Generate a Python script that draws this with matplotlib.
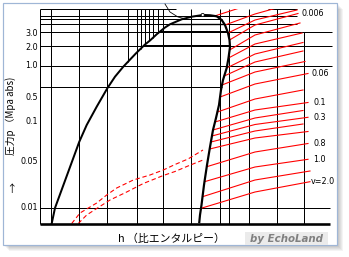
import numpy as np
import matplotlib
matplotlib.use("Agg")
import matplotlib.pyplot as plt
from matplotlib.patches import Rectangle, Circle

# ---------------- data (chart units = pixels) -------------
# saturated liquid line (h, p-position)
liq_x = [51.7, 55, 79.3, 86.7, 96.7, 107.3, 115, 123.3, 136, 145, 150, 157, 165, 170, 181.7, 191.7, 202.7]
liq_y = [223.5, 208, 141.7, 125, 106.7, 88.3, 76.7, 66.7, 53.3, 44.5, 40.5, 34, 27.5, 24.3, 19.3, 16.7, 15]
# saturated vapour line
vap_x = [202.7, 210, 216.7, 221.7, 225, 228, 229.5, 230, 228.5, 226.7, 223, 221, 219, 216, 213, 210, 207, 204, 201.5, 200, 199.3]
vap_y = [15, 15.3, 16.3, 20, 25, 33, 40, 47, 58, 68, 80, 90, 105, 118, 130, 147, 165, 185, 205, 215, 222]
crit_h, crit_p = 202.7, 15

# pressure grid lines
hgrid_y = [9.3, 9.3, 15.7, 19.3, 24, 32.3, 45.7, 66, 87.3, 208.3]
hgrid_x0 = [40, 268, 40, 40, 40, 40, 40, 40, 40, 40]
hgrid_x1 = [176, 297, 297, 222, 297, 332, 332, 332, 222, 330]
wet_iso_y = [24, 32.3, 45.7]
wet_iso_lw = [1.4, 2.0, 2.0]

# enthalpy grid lines
vgrid_x = [40, 51, 79, 107, 136.5, 163, 191, 220, 229, 249, 277, 304]
vgrid_top = [9.3, 9.3, 9.3, 9.3, 9.3, 9.3, 9.3, 9.3, 9.3, 9.3, 9.3, 32.3]
liq_iso_x = [128, 140.5, 145, 149, 153, 158]

# thin curve fragment at the top
frag_x = [165, 170, 178, 186]
frag_y = [4, 12, 17, 19]

# constant specific volume lines (red): start on vapour line, mid at h=255, end
red_ys = [16, 25, 33, 40, 50, 58, 68, 76, 85, 97, 112, 122, 130, 136, 142, 149, 166.7, 181.7, 196.7, 208.3]
red_ym = [3, 14, 20, 25, 35, 44, 54, 62, 72, 84, 99, 110, 118, 124.5, 131, 138, 152, 167, 180, 192]
red_ye = [-8, 2, 10, 13.5, 23, 33, 42.5, 51, 61.5, 73.5, 90, 102.5, 110.5, 117.3, 124, 131.5, 143.5, 159.3, 171, 181.7]
red_xe = [298, 298, 297, 298, 300, 302, 303, 303, 305, 308, 303, 308, 303, 308, 303, 308, 308, 308, 310, 310]
red_mid_h = 255

red_labels = ["0.006", "0.06", "0.1", "0.3", "0.8", "1.0", "v=2.0"]
red_label_x = [301, 312, 313, 313, 313, 313, 311]
red_label_y = [13.5, 73.5, 102.5, 117.3, 143.5, 159.3, 181.7]

# dashed red lines (lower left)
dashA_x = [71.7, 80, 96.7, 106.7, 116.7, 133.3, 150, 163.3, 175, 188, 203]
dashA_y = [223.5, 213, 203, 195, 188, 180, 175, 170, 164.5, 159, 150]
dashB_x = [78.3, 86.7, 96.7, 110, 126.7, 143.3, 163.3, 175, 188, 203]
dashB_y = [223.5, 215, 208.5, 200, 192, 183.5, 175.5, 171.5, 166, 160]

# pressure tick labels
p_labels = ["3.0", "2.0", "1.0", "0.5", "0.1", "0.05", "0.01"]
p_pos = [33, 47, 66, 97, 121, 161, 208]

# ---------------- drawing -------------
W, H = 349, 257
PX = 0.72
fig = plt.figure(figsize=(W / 100, H / 100), dpi=100)
ax = fig.add_axes([0, 0, 1, 1])
ax.set_xlim(0, W)
ax.set_ylim(H, 0)
ax.axis('off')

# frame with shadow
for i in range(1, 7):
    ax.add_patch(Rectangle((3 + i, 3 + i), 334, 242, fc=(0, 0, 0, 0.045), ec='none', zorder=0))
ax.add_patch(Rectangle((3, 3), 334, 242, fc='white', ec='#9fb6d6', lw=1.2 * PX, zorder=0.5))

K = 'black'
for y, x0, x1 in zip(hgrid_y, hgrid_x0, hgrid_x1):
    ax.plot([x0, x1], [y, y], color=K, lw=1.0 * PX, zorder=1, solid_capstyle='butt')
for x, t in zip(vgrid_x, vgrid_top):
    ax.plot([x, x], [t, 224], color=K, lw=1.0 * PX, zorder=1, solid_capstyle='butt')
for x in liq_iso_x:
    yb = np.interp(x, liq_x, liq_y)
    ax.plot([x, x], [9.3, yb], color=K, lw=1.0 * PX, zorder=1, solid_capstyle='butt')
for y, w in zip(wet_iso_y, wet_iso_lw):
    xa = np.interp(y, liq_y[::-1], liq_x[::-1])
    xb = np.interp(y, vap_y, vap_x)
    ax.plot([xa, xb], [y, y], color=K, lw=w * PX, zorder=1.5, solid_capstyle='butt')
# bottom axis line
ax.plot([40, 330], [224, 224], color=K, lw=2.6 * PX, zorder=3, solid_capstyle='butt')
ax.plot(frag_x, frag_y, color=K, lw=0.8 * PX, zorder=1)

clip = Rectangle((40, 9.3), 300, 215, transform=ax.transData)

# red lines
for ys, ym, ye, xe in zip(red_ys, red_ym, red_ye, red_xe):
    xs = np.interp(ys, vap_y, vap_x)
    ln, = ax.plot([xs, red_mid_h, xe], [ys, ym, ye], color='#ff0000', lw=1.1 * PX, zorder=2)
    ln.set_clip_path(clip)
for dx, dy in ((dashA_x, dashA_y), (dashB_x, dashB_y)):
    ax.plot(dx, dy, color='#ff0000', lw=1.1 * PX, ls=(0, (4, 2.5)), zorder=2)

# saturation dome
ax.plot(liq_x, liq_y, color=K, lw=2.0 * PX, zorder=3)
ax.plot(vap_x, vap_y, color=K, lw=2.2 * PX, zorder=3)
ax.add_patch(Circle((crit_h, crit_p), 1.6, fc='white', ec=K, lw=0.8 * PX, zorder=4))

# texts
for lab, y in zip(p_labels, p_pos):
    ax.text(38, y, lab, ha='right', va='center', fontsize=5.8, family='DejaVu Sans', zorder=5)
for lab, x, y in zip(red_labels, red_label_x, red_label_y):
    ax.text(x, y, lab, ha='left', va='center', fontsize=5.8, family='DejaVu Sans', zorder=5)

cjk = ['Noto Sans CJK JP', 'DejaVu Sans']
ax.text(11, 116, "圧力p （Mpa abs)", rotation=90, ha='center', va='center', fontsize=7.0, family=cjk, zorder=5)
ax.text(11, 189, "↑", ha='center', va='center', fontsize=7.5, family=cjk, zorder=5)
ax.text(118, 239, "h （比エンタルピー）", ha='left', va='center', fontsize=7.8, family=cjk, zorder=5)

ax.add_patch(Rectangle((245, 232), 83, 13, fc='#ebebeb', ec='none', zorder=4))
ax.text(286.5, 238.5, "by EchoLand", ha='center', va='center', fontsize=7.4, color='#808080',
        fontweight='bold', fontstyle='italic', family='DejaVu Sans', zorder=5)

fig.savefig('out.png', dpi=100)
